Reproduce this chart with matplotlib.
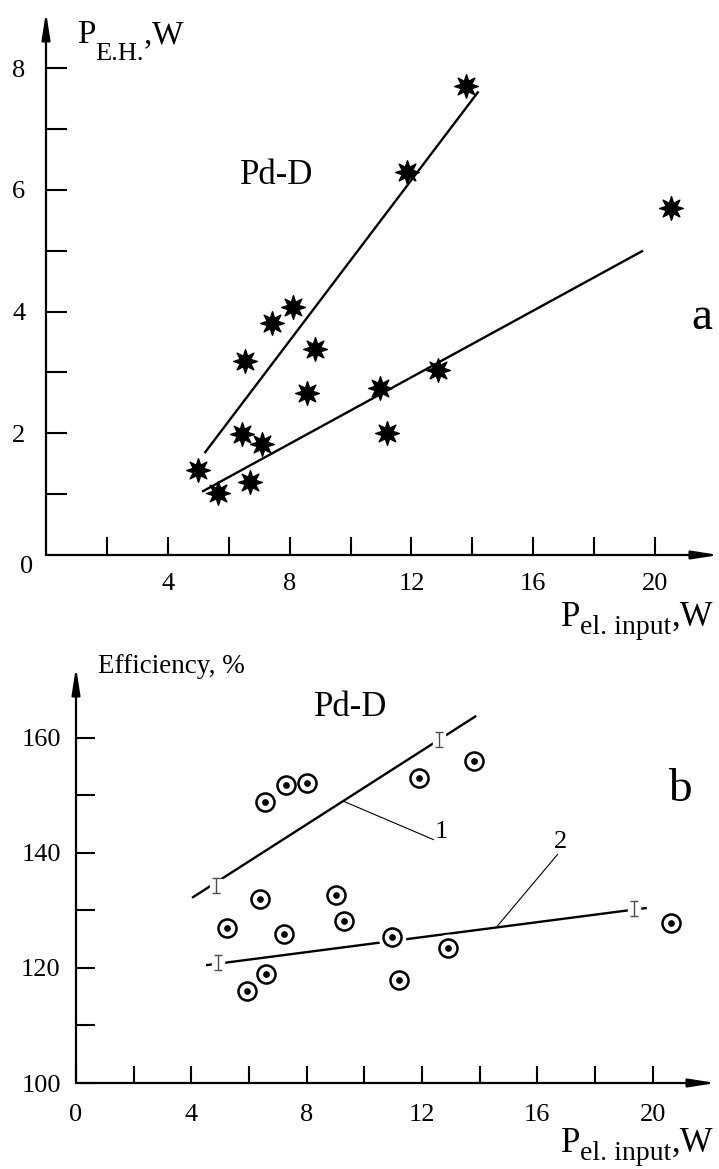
import numpy as np
import matplotlib.pyplot as plt
from matplotlib.path import Path

plt.rcParams['font.family'] = 'Liberation Serif'

# panel a: excess heat vs input power (stars)
a_x = [4.99, 5.65, 6.53, 6.44, 6.70, 7.09, 7.42, 8.11, 8.83, 8.57,
       10.97, 11.20, 12.88, 11.86, 13.79, 20.53]
a_y = [1.40, 1.02, 3.19, 1.99, 1.20, 1.82, 3.81, 4.07, 3.38, 2.66,
       2.74, 2.00, 3.04, 6.29, 7.70, 5.70]
a_fit1_x = [5.23, 14.18]
a_fit1_y = [1.69, 7.60]
a_fit2_x = [5.16, 19.57]
a_fit2_y = [1.05, 4.99]

# panel b: efficiency vs input power (circles)
b_x = [6.56, 7.29, 8.02, 11.91, 13.82, 6.39, 9.03, 9.31, 5.24, 7.22,
       6.60, 5.94, 10.97, 12.92, 11.22, 20.63]
b_y = [148.9, 151.8, 152.2, 153.0, 156.0, 132.0, 132.7, 128.2, 127.0, 125.9,
       119.0, 116.0, 125.4, 123.5, 117.9, 127.8]
b_fit1_x = [4.06, 13.85]
b_fit1_y = [132.3, 163.7]
b_fit2_x = [4.55, 19.76]
b_fit2_y = [120.5, 130.4]
b_err_x = [4.86, 12.60, 4.93, 19.34]
b_err_y = [134.4, 159.7, 120.9, 130.4]

star = Path.unit_regular_star(8, 0.48)

fig = plt.figure(figsize=(7.19, 11.69), dpi=100)
W, H = 719, 1169
renderer = fig.canvas.get_renderer()


def px(x, y):
    return x / W, 1 - y / H


def label(x, base, pieces):
    # pieces: (text, fontsize, baseline shift in px, downwards)
    for s, size, dy in pieces:
        t = fig.text(*px(x, base + dy), s, fontsize=size, ha='left',
                     va='baseline')
        x += t.get_window_extent(renderer).width


def axes_frame(ax, xmax, ymin, ymax):
    for s in ax.spines.values():
        s.set_visible(False)
    ax.set_xlim(0, xmax)
    ax.set_ylim(ymin, ymax)
    arrow = dict(arrowstyle='-|>,head_length=1.6,head_width=0.25', lw=1.6,
                 color='k', shrinkA=0, shrinkB=0)
    ax.annotate('', xy=(1, 0), xytext=(0, 0), xycoords='axes fraction',
                arrowprops=arrow, annotation_clip=False)
    ax.annotate('', xy=(0, 1), xytext=(0, 0), xycoords='axes fraction',
                arrowprops=arrow, annotation_clip=False)
    ax.patch.set_alpha(0)


# ---- top panel ----
ax1 = fig.add_axes([46 / W, 1 - 555 / H, 673 / W, 543 / H])
axes_frame(ax1, 22.1, 0, 8.92)
ax1.set_xticks([4, 8, 12, 16, 20])
ax1.set_xticks([2, 6, 10, 14, 18], minor=True)
ax1.set_yticks([2, 4, 6, 8])
ax1.set_yticks([1, 3, 5, 7], minor=True)
ax1.tick_params(which='both', direction='in', width=1.5, labelsize=19)
ax1.tick_params(axis='x', which='both', length=13, pad=13)
ax1.tick_params(axis='y', which='both', length=15, pad=15)

ax1.plot(a_fit1_x, a_fit1_y, color='k', lw=1.7)
ax1.plot(a_fit2_x, a_fit2_y, color='k', lw=1.7)
ax1.plot(a_x, a_y, ls='none', marker=star, ms=17, color='k')

fig.text(*px(27, 567), '0', fontsize=19, ha='center', va='center')
label(77, 43, [('P', 24, 0), ('E.H.', 19, 17), (',', 24, 0), ('W', 24, 0)])
fig.text(*px(277, 176), 'Pd-D', fontsize=25, ha='center', va='center')
fig.text(*px(702, 318), 'a', fontsize=34, ha='center', va='center')
label(561, 626, [('P', 25, 0), ('el. input', 20, 8), (',W', 25, 0)])

# ---- bottom panel ----
ax2 = fig.add_axes([76 / W, 86 / H, 640 / W, 416 / H])
axes_frame(ax2, 22.2, 100, 172.3)
ax2.set_xticks([0, 4, 8, 12, 16, 20])
ax2.set_xticks([2, 6, 10, 14, 18], minor=True)
ax2.set_yticks([100, 120, 140, 160])
ax2.set_yticks([110, 130, 150], minor=True)
ax2.tick_params(which='both', direction='in', width=1.5, labelsize=19)
ax2.tick_params(axis='x', which='both', length=12, pad=15)
ax2.tick_params(axis='y', which='both', length=14, pad=11)

ax2.plot(b_fit1_x, b_fit1_y, color='k', lw=1.7, zorder=1)
ax2.plot(b_fit2_x, b_fit2_y, color='k', lw=1.7, zorder=1)
# white gaps around the error marks and circles
ax2.plot(b_err_x, b_err_y, ls='none', marker='s', ms=9, color='white', zorder=2)
ax2.errorbar(b_err_x, b_err_y, yerr=1.3, fmt='none', ecolor='0.3',
             elinewidth=1.0, capsize=3, capthick=1.0, zorder=3)
ax2.plot(b_x, b_y, ls='none', marker='o', ms=19, color='white', zorder=2)
ax2.plot(b_x, b_y, ls='none', marker='o', ms=13, mfc='white', mec='k',
         mew=1.8, zorder=3)
ax2.plot(b_x, b_y, ls='none', marker='o', ms=3.8, color='k', zorder=4)

# leader lines to curve labels
ax2.plot([9.31, 12.40], [148.9, 142.3], color='k', lw=0.8, zorder=1)
ax2.plot([16.70, 14.62], [139.7, 127.3], color='k', lw=0.8, zorder=1)
ax2.text(12.67, 143.6, '1', fontsize=19, ha='center', va='center')
ax2.text(16.81, 141.9, '2', fontsize=19, ha='center', va='center')

fig.text(*px(98, 673), 'Efficiency, %', fontsize=19.5, ha='left', va='baseline')
fig.text(*px(351, 707), 'Pd-D', fontsize=25, ha='center', va='center')
fig.text(*px(680, 790), 'b', fontsize=34, ha='center', va='center')
label(561, 1152, [('P', 25, 0), ('el. input', 20, 8), (',W', 25, 0)])

fig.savefig('out.png', dpi=100)
